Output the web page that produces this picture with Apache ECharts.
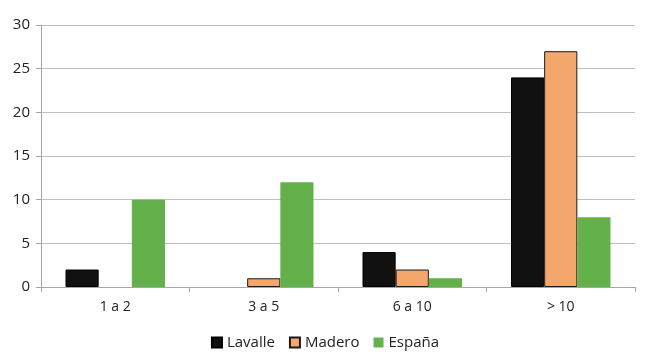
<!DOCTYPE html>
<html>
<head>
<meta charset="utf-8">
<script src="https://cdn.jsdelivr.net/npm/echarts@6/dist/echarts.min.js"></script>
<style>
  html, body { margin: 0; padding: 0; background: #fff; }
  #chart { width: 650px; height: 359px; }
</style>
</head>
<body>
<div id="chart"></div>
<script>
var categories = ['1 a 2', '3 a 5', '6 a 10', '> 10'];
var lavalle = [2, 0, 4, 24];
var madero = [0, 1, 2, 27];
var espana = [10, 12, 1, 8];
var seriesNames = ['Lavalle', 'Madero', 'España'];

// zero bars get no outline, so nothing is drawn for them
function noZeroBorder(arr) {
  return arr.map(function (v) {
    return v === 0 ? { value: 0, itemStyle: { borderWidth: 0 } } : v;
  });
}

var chart = echarts.init(document.getElementById('chart'));
var font = '"Open Sans", "Noto Sans", sans-serif';

chart.setOption({
  animation: false,
  textStyle: { fontFamily: font },
  grid: { left: 41, right: 15, top: 25, bottom: 72 },
  legend: {
    bottom: 4,
    left: 'center',
    icon: 'rect',
    itemWidth: 10,
    itemHeight: 10,
    itemGap: 14,
    textStyle: { fontSize: 15, color: '#222', fontFamily: font },
    data: seriesNames
  },
  xAxis: {
    type: 'category',
    data: categories,
    axisLine: { lineStyle: { color: '#a6a6a6' } },
    axisTick: { show: true, length: 5, lineStyle: { color: '#a6a6a6' } },
    axisLabel: { fontSize: 14, color: '#222', margin: 13 }
  },
  yAxis: {
    type: 'value',
    min: 0,
    max: 30,
    interval: 5,
    axisLine: { show: true, lineStyle: { color: '#a6a6a6' } },
    axisTick: { show: true, length: 5, lineStyle: { color: '#a6a6a6' } },
    axisLabel: { fontSize: 15, color: '#222', margin: 11 },
    splitLine: { lineStyle: { color: '#bfbfbf' } }
  },
  series: [
    {
      name: seriesNames[0], type: 'bar', data: noZeroBorder(lavalle),
      barGap: '0%', barCategoryGap: '33%',
      itemStyle: { color: '#111111', borderColor: '#000', borderWidth: 1 }
    },
    {
      name: seriesNames[1], type: 'bar', data: noZeroBorder(madero),
      itemStyle: { color: '#f3a76d', borderColor: '#1a1a1a', borderWidth: 1 }
    },
    {
      name: seriesNames[2], type: 'bar', data: espana,
      itemStyle: { color: '#64b14b' }
    }
  ]
});
</script>
</body>
</html>
